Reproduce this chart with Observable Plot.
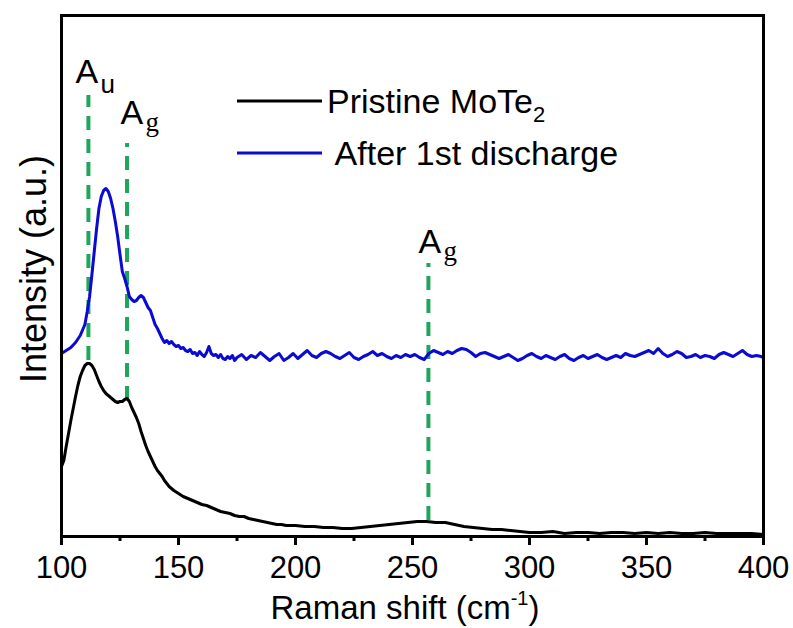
<!DOCTYPE html>
<html><head><meta charset="utf-8">
<script src="https://cdn.jsdelivr.net/npm/d3@7"></script>
<script src="https://cdn.jsdelivr.net/npm/@observablehq/plot@0.6"></script>
<style>
html,body{margin:0;padding:0;background:#fff;}
#chart{width:793px;height:628px;}
</style></head><body><div id="chart"></div>
<script>
// Raman shift (cm-1), intensity (a.u.)
const pristine = [[100,70],[101,76],[102,90],[103,103],[104,116],[105,128],[106,140],[107,151],[108,160],[109,166],[110,171],[111,173],[112,173],[113,171],[114,167],[115,161],[116,155],[117,150],[118,146],[119,143],[120,141],[121,139],[122,137],[123,135],[124,134],[125,135],[126,135],[127,137],[128,138],[129,135],[130,129],[131,124],[132,119],[133,113],[134,105],[135,98],[136,91],[137,85],[138,80],[139,75],[140,70],[141,66],[142,63],[143,60],[144,56],[145,53],[146,50],[148,46],[150,43],[152,40],[154,38],[156,36],[158,34],[160,32],[162,31],[164,29],[166,27],[168,25],[170,24],[172,23],[174,21],[176,20],[178,20],[180,18],[182,17],[184,16],[186,15],[188,14],[190,13],[192,12],[194,12],[196,11],[198,11],[200,11],[204,10],[208,10],[212,9],[216,9],[220,8],[224,8],[228,9],[232,10],[236,11],[240,12],[244,13],[248,14],[252,15],[256,15],[260,14],[264,14],[268,12],[272,10],[276,9],[280,8],[284,7],[288,7],[292,6],[296,5],[300,4],[305,4],[310,5],[315,3],[320,4],[325,4],[330,3],[335,4],[340,4],[345,3],[350,4],[355,3],[360,4],[365,3],[370,3],[375,4],[380,3],[385,3],[390,3],[395,3],[400,2]];

const discharged = [[100,183],[102,186],[104,189],[106,194],[108,201],[110,212],[111,225],[112,240],[113,262],[114,285],[115,308],[116,328],[117,340],[118,346],[119,348],[120,345],[121,338],[122,328],[123,315],[124,300],[125,282],[126,265],[127,258],[128,250],[129,240],[130,237],[131,235],[132,236],[133,239],[134,241],[135,239],[136,234],[137,229],[138,226],[139,219],[140,212],[141,208],[142,203],[143,198],[144,194],[145,196],[146,193],[147,195],[148,192],[149,190],[150,191],[151,188],[152,189],[153,186],[154,185],[155,187],[156,183],[157,184],[158,181],[159,185],[160,182],[161,180],[162,184],[163,190],[164,183],[165,181],[166,182],[167,179],[168,182],[169,178],[170,177],[171,180],[172,178],[173,181],[174,176],[175,179],[177,182],[179,177],[181,181],[183,179],[185,184],[187,180],[189,176],[191,180],[193,183],[195,176],[197,179],[199,183],[201,178],[203,182],[205,186],[207,181],[209,179],[211,183],[213,185],[215,183],[217,180],[219,178],[221,181],[223,184],[225,179],[227,177],[229,180],[231,182],[233,185],[235,181],[237,183],[239,180],[241,178],[243,181],[245,179],[247,182],[249,180],[251,182],[253,179],[255,177],[257,183],[259,186],[261,184],[263,182],[265,185],[267,183],[269,186],[271,188],[273,187],[275,184],[277,180],[279,183],[281,184],[283,182],[285,180],[287,178],[289,180],[291,182],[293,179],[295,176],[297,178],[299,181],[301,183],[303,180],[305,178],[307,181],[309,179],[311,177],[313,180],[315,182],[317,178],[319,176],[321,179],[323,181],[325,178],[327,180],[329,182],[331,179],[333,177],[335,179],[337,181],[339,179],[341,183],[343,181],[345,180],[347,182],[349,184],[351,186],[353,183],[355,188],[357,183],[359,180],[361,182],[363,185],[365,183],[367,179],[369,180],[371,182],[373,179],[375,181],[377,180],[379,178],[381,182],[383,184],[385,182],[387,180],[389,183],[391,186],[393,182],[395,180],[397,181],[399,180],[400,179]];

// peak assignments: position (cm-1), dashed marker extent and label height (a.u.)
const peakNames = ["A", "A", "A"];
const peakSubs = ["u", "g", "g"];
const peakShift = [111.5, 128, 256.8];
const peakLow = [176, 136, 16];
const peakHigh = [441, 393, 273];
const peakLabelShift = [106.0, 125.2, 252.6];
const peakLabelY = [454, 413, 284];

const xTicks = [100, 150, 200, 250, 300, 350, 400];
const xMinorTicks = [125, 175, 225, 275, 325, 375];
const seriesNames = ["Pristine MoTe", " After 1st discharge"];
const seriesColors = ["#000000", "#0a0ad2"];

const peaks = peakShift.map((s, i) => ({
  name: peakNames[i], sub: peakSubs[i], shift: s, low: peakLow[i], high: peakHigh[i],
  lx: peakLabelShift[i], ly: peakLabelY[i]
}));

const SANS = "'Liberation Sans', Arial, sans-serif";
const NARROW = "'Liberation Sans Narrow', 'Arial Narrow', 'Liberation Sans', sans-serif";
const SERIF = "'Liberation Serif', 'Times New Roman', serif";

const plot = Plot.plot({
  width: 793, height: 628,
  marginLeft: 61, marginRight: 30, marginTop: 15, marginBottom: 92,
  x: {domain: [100, 400]},
  y: {domain: [0, 521], axis: null},
  style: {background: "#fff", color: "#000", overflow: "visible"},
  marks: [
    Plot.ruleX(peaks, {x: "shift", y1: "low", y2: "high", stroke: "#1fa65a", strokeWidth: 4, strokeDasharray: "14,9"}),
    Plot.line(pristine, {x: d => d[0], y: d => d[1], stroke: seriesColors[0], strokeWidth: 3}),
    Plot.line(discharged, {x: d => d[0], y: d => d[1], stroke: seriesColors[1], strokeWidth: 3}),
    Plot.text(peaks, {x: "lx", y: "ly", text: "name", textAnchor: "start", lineAnchor: "bottom", fontSize: 34, fontFamily: SANS, fill: "#000"}),
    Plot.text(peaks.filter(d => d.sub === "u"), {x: "lx", y: "ly", text: "sub", textAnchor: "start", lineAnchor: "bottom", dx: 25, dy: 10, fontSize: 26, fontFamily: SANS, fill: "#000"}),
    Plot.text(peaks.filter(d => d.sub === "g"), {x: "lx", y: "ly", text: "sub", textAnchor: "start", lineAnchor: "bottom", dx: 25, dy: 7, fontSize: 27, fontFamily: SERIF, fill: "#000"}),
    Plot.axisX(xTicks, {tickSize: 9, tickPadding: 10, strokeWidth: 3, fontSize: 31, fontFamily: NARROW, label: null}),
    Plot.axisX(xMinorTicks, {tickSize: 5, strokeWidth: 3, tickFormat: () => "", label: null}),
    Plot.frame({stroke: "#000", strokeWidth: 3})
  ]
});
document.getElementById("chart").appendChild(plot);

const svg = d3.select(plot);
// legend
const lg = svg.append("g").attr("font-family", SANS).attr("font-size", 34).attr("fill", "#000").attr("text-anchor", "start");
const legRows = [101, 153];
seriesNames.forEach((name, i) => {
  lg.append("line").attr("x1", 237).attr("x2", 322).attr("y1", legRows[i]).attr("y2", legRows[i])
    .attr("stroke", seriesColors[i]).attr("stroke-width", 3);
  const t = lg.append("text").attr("x", 327).attr("y", legRows[i] + 12).attr("text-anchor", "start").style("white-space", "pre");
  t.append("tspan").text(name);
  if (i === 0) t.append("tspan").attr("font-size", 22).attr("dy", 9).text("2");
});
// x title
const xt = svg.append("text").attr("x", 405).attr("y", 619).attr("text-anchor", "middle")
  .attr("font-family", SANS).attr("font-size", 33).attr("fill", "#000");
xt.append("tspan").text("Raman shift (cm");
xt.append("tspan").attr("font-size", 20).attr("dy", -14).text("-1");
xt.append("tspan").attr("dy", 14).text(")");
// y title
svg.append("text").attr("transform", "translate(46,269) rotate(-90)").attr("text-anchor", "middle")
  .attr("font-family", SANS).attr("font-size", 36).attr("fill", "#000").text("Intensity (a.u.)");
</script></body></html>
